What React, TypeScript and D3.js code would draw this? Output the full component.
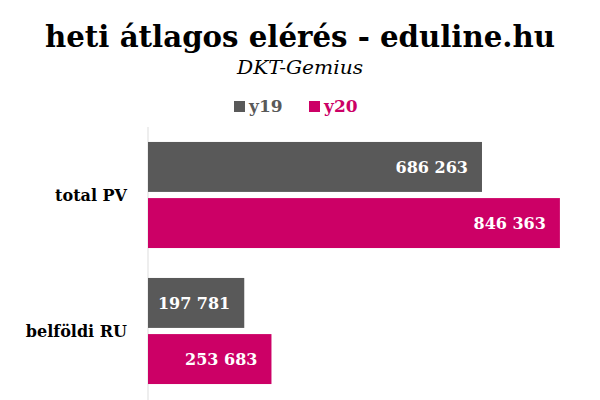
import React from "react";
import * as d3 from "d3";

const categories = ["total PV", "belföldi RU"];
const seriesNames = ["y19", "y20"];
const y19Values = [686263, 197781];
const y20Values = [846363, 253683];
const seriesColors = ["#595959", "#cc0066"];

const W = 600;
const H = 400;
const FONT = "'DejaVu Serif', 'Liberation Serif', serif";

const fmt = (v: number) => d3.format(",")(v).replace(/,/g, " ");

export default function App() {
  const x = d3.scaleLinear().domain([0, 900000]).range([148, 586]);
  const y0 = d3.scaleBand<string>().domain(categories).range([127, 399]).paddingInner(0.22).paddingOuter(0.11);
  const y1 = d3.scaleBand<string>().domain(seriesNames).range([0, y0.bandwidth()]).paddingInner(0.11);
  const seriesValues = [y19Values, y20Values];

  return (
    <svg width={W} height={H} style={{ position: "absolute", left: 0, top: 0, background: "#fff" }}>
      <text x={300} y={47} textAnchor="middle" fontFamily={FONT} fontWeight="bold" fontSize={30} fill="#000" textLength={510} lengthAdjust="spacingAndGlyphs">
        heti átlagos elérés - eduline.hu
      </text>
      <text x={300} y={74} textAnchor="middle" fontFamily={FONT} fontStyle="italic" fontSize={19} fill="#000" textLength={126} lengthAdjust="spacingAndGlyphs">
        DKT-Gemius
      </text>
      <g>
        <rect x={234} y={101} width={11} height={11} fill={seriesColors[0]} />
        <text x={249} y={112} fontFamily={FONT} fontWeight="bold" fontSize={17} fill={seriesColors[0]}>{seriesNames[0]}</text>
        <rect x={309} y={101} width={11} height={11} fill={seriesColors[1]} />
        <text x={324} y={112} fontFamily={FONT} fontWeight="bold" fontSize={17} fill={seriesColors[1]}>{seriesNames[1]}</text>
      </g>
      <line x1={x(0)} x2={x(0)} y1={127} y2={400} stroke="#dddddd" strokeWidth={1} />
      {categories.map((c, ci) => (
        <g key={c}>
          <text x={127} y={(y0(c) as number) + y0.bandwidth() / 2} dy="0.35em" textAnchor="end" fontFamily={FONT} fontWeight="bold" fontSize={16} fill="#000">
            {c}
          </text>
          {seriesNames.map((s, si) => {
            const v = seriesValues[si][ci];
            const by = (y0(c) as number) + (y1(s) as number);
            return (
              <g key={s}>
                <rect x={x(0)} y={by} width={x(v) - x(0)} height={y1.bandwidth()} fill={seriesColors[si]} />
                <text x={x(v) - 14} y={by + y1.bandwidth() / 2} dy="0.35em" textAnchor="end" fontFamily={FONT} fontWeight="bold" fontSize={16} fill="#fff">
                  {fmt(v)}
                </text>
              </g>
            );
          })}
        </g>
      ))}
    </svg>
  );
}
